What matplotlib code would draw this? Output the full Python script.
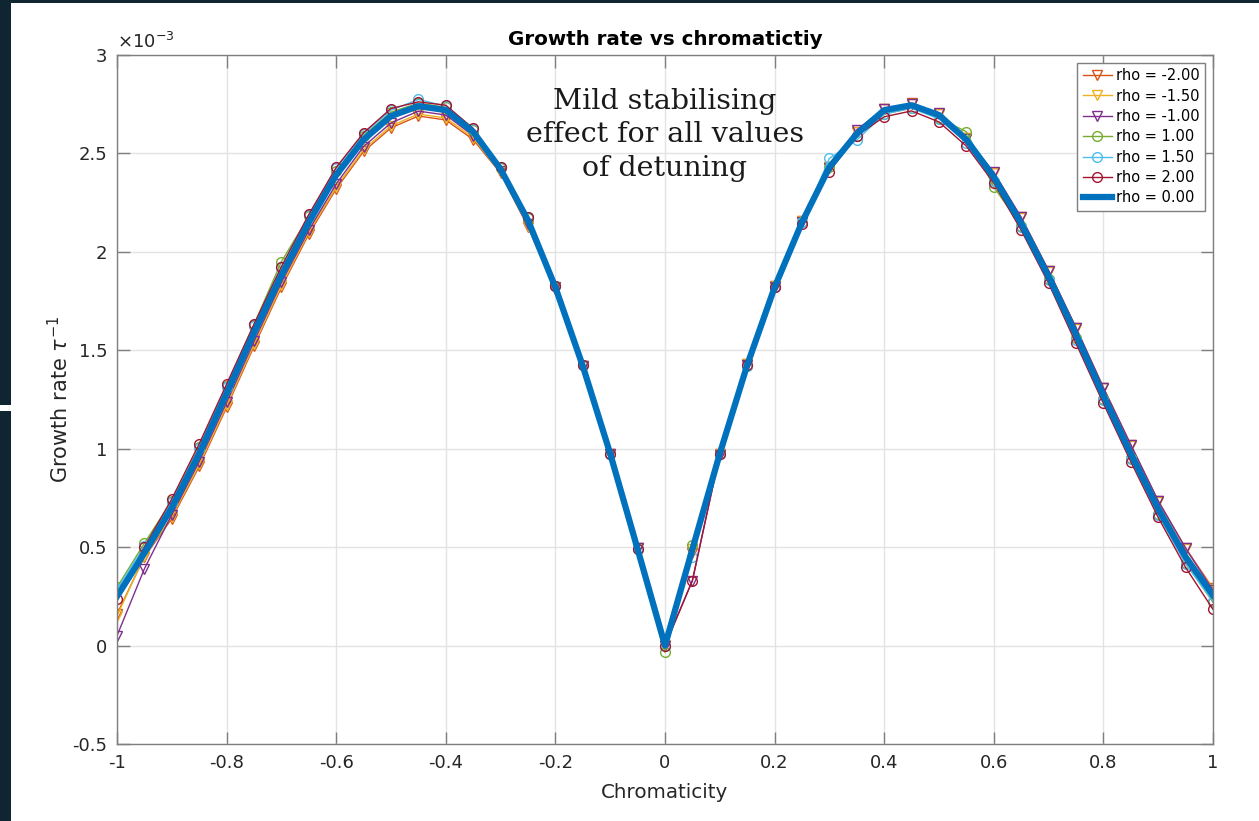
import matplotlib
matplotlib.use('Agg')
import matplotlib.pyplot as plt
from matplotlib.patches import Rectangle
from matplotlib.ticker import FuncFormatter

# Chromaticity (eje x)
chroma = [-1.00, -0.95, -0.90, -0.85, -0.80, -0.75, -0.70, -0.65, -0.60, -0.55,
          -0.50, -0.45, -0.40, -0.35, -0.30, -0.25, -0.20, -0.15, -0.10, -0.05,
          0.00, 0.05, 0.10, 0.15, 0.20, 0.25, 0.30, 0.35, 0.40, 0.45,
          0.50, 0.55, 0.60, 0.65, 0.70, 0.75, 0.80, 0.85, 0.90, 0.95, 1.00]

# Growth rate en unidades de 1e-3
rate_m200 = [0.16, 0.45, 0.645, 0.91, 1.21, 1.52, 1.82, 2.09, 2.32, 2.51,
             2.63, 2.69, 2.67, 2.57, 2.40, 2.125, 1.81, 1.42, 0.975, 0.495,
             0.005, 0.47, 0.975, 1.43, 1.825, 2.155, 2.43, 2.61, 2.725, 2.755,
             2.70, 2.58, 2.40, 2.175, 1.905, 1.615, 1.31, 1.02, 0.735, 0.495, 0.29]
rate_m150 = [0.15, 0.455, 0.655, 0.92, 1.22, 1.53, 1.83, 2.10, 2.33, 2.52,
             2.64, 2.70, 2.68, 2.58, 2.405, 2.13, 1.815, 1.42, 0.975, 0.495,
             0.005, 0.49, 0.975, 1.43, 1.825, 2.155, 2.43, 2.61, 2.725, 2.75,
             2.70, 2.58, 2.40, 2.17, 1.90, 1.61, 1.31, 1.015, 0.73, 0.49, 0.285]
rate_m100 = [0.05, 0.39, 0.665, 0.935, 1.235, 1.545, 1.845, 2.11, 2.345, 2.535,
             2.655, 2.715, 2.695, 2.59, 2.41, 2.14, 1.82, 1.42, 0.975, 0.495,
             0.0, 0.33, 0.97, 1.425, 1.82, 2.15, 2.425, 2.62, 2.728, 2.75,
             2.706, 2.575, 2.405, 2.175, 1.905, 1.615, 1.31, 1.02, 0.735, 0.495, 0.28]
rate_p100 = [0.296, 0.52, 0.735, 1.01, 1.32, 1.63, 1.95, 2.18, 2.41, 2.59,
             2.71, 2.755, 2.735, 2.62, 2.425, 2.17, 1.825, 1.425, 0.975, 0.49,
             -0.035, 0.51, 0.975, 1.42, 1.82, 2.15, 2.43, 2.59, 2.70, 2.73,
             2.68, 2.61, 2.33, 2.13, 1.86, 1.56, 1.25, 0.955, 0.67, 0.42, 0.22]
rate_p150 = [0.286, 0.505, 0.73, 1.005, 1.315, 1.625, 1.925, 2.185, 2.425, 2.60,
             2.72, 2.774, 2.74, 2.625, 2.43, 2.175, 1.825, 1.425, 0.975, 0.49,
             0.0, 0.45, 0.975, 1.42, 1.82, 2.15, 2.475, 2.568, 2.70, 2.73,
             2.675, 2.555, 2.36, 2.125, 1.855, 1.55, 1.245, 0.95, 0.665, 0.415, 0.225]
rate_p200 = [0.238, 0.50, 0.745, 1.025, 1.328, 1.633, 1.924, 2.19, 2.429, 2.605,
             2.728, 2.762, 2.745, 2.627, 2.432, 2.178, 1.826, 1.425, 0.975, 0.49,
             0.0, 0.33, 0.975, 1.425, 1.82, 2.14, 2.408, 2.59, 2.686, 2.716,
             2.66, 2.537, 2.35, 2.11, 1.84, 1.535, 1.23, 0.934, 0.651, 0.397, 0.184]
rate_0 = [0.25, 0.47, 0.70, 0.975, 1.28, 1.59, 1.88, 2.15, 2.39, 2.57,
          2.69, 2.74, 2.72, 2.61, 2.42, 2.16, 1.82, 1.42, 0.975, 0.49,
          0.0, 0.49, 0.975, 1.425, 1.82, 2.15, 2.43, 2.60, 2.72, 2.745,
          2.695, 2.57, 2.38, 2.145, 1.875, 1.58, 1.27, 0.975, 0.695, 0.45, 0.255]

series = [
    ('rho = -2.00', rate_m200, '#D95319', 'v'),
    ('rho = -1.50', rate_m150, '#EDB120', 'v'),
    ('rho = -1.00', rate_m100, '#7E2F8E', 'v'),
    ('rho = 1.00', rate_p100, '#77AC30', 'o'),
    ('rho = 1.50', rate_p150, '#4DBEEE', 'o'),
    ('rho = 2.00', rate_p200, '#A2142F', 'o'),
]

fig = plt.figure(figsize=(12.59, 8.21), dpi=100)
fig.patch.set_facecolor('#0F2532')
# fondo blanco de la captura
fig.add_artist(Rectangle((11 / 1259, 0), 1, 1 - 3 / 821, transform=fig.transFigure,
                         facecolor='white', edgecolor='none', zorder=0))
fig.add_artist(Rectangle((0, 1 - 411 / 821), 11 / 1259, 6 / 821, transform=fig.transFigure,
                         facecolor='white', edgecolor='none', zorder=0))

ax = fig.add_axes([117 / 1259, 1 - 744 / 821, (1213 - 117) / 1259, (744 - 55) / 821])

for label, vals, col, mk in series:
    ax.plot(chroma, vals, c=col, lw=1.0, marker=mk, ms=7, mfc='none',
            mec=col, mew=1.0, label=label)
ax.plot(chroma, rate_0, c='#0072BD', lw=4.5, label='rho = 0.00',
        solid_joinstyle='round')

ax.set_xlim(-1, 1)
ax.set_ylim(-0.5, 3)
ax.set_xticks([-1, -0.8, -0.6, -0.4, -0.2, 0, 0.2, 0.4, 0.6, 0.8, 1])
ax.set_yticks([-0.5, 0, 0.5, 1, 1.5, 2, 2.5, 3])
fmt = FuncFormatter(lambda v, p: '%g' % v)
ax.xaxis.set_major_formatter(fmt)
ax.yaxis.set_major_formatter(fmt)
ax.tick_params(direction='in', length=9, width=1, top=True, right=True,
               labelsize=13, colors='#7f7f7f', labelcolor='#262626', pad=7)
for s in ax.spines.values():
    s.set_color('#7f7f7f')
    s.set_linewidth(1)
ax.grid(c='#e3e3e3', lw=1)
ax.set_axisbelow(True)

ax.set_title('Growth rate vs chromatictiy', fontsize=14.3, fontweight='bold',
             color='black', pad=7)
ax.set_xlabel('Chromaticity', fontsize=14.3, color='#262626', labelpad=8)
ax.set_ylabel('Growth rate $\\tau^{-1}$', fontsize=15, color='#262626', labelpad=0)
ax.text(0.0, 1.005, '$\\times$10$^{-3}$', transform=ax.transAxes, fontsize=13,
        color='#262626', ha='left', va='bottom')

ax.text(0.0, 2.595, 'Mild stabilising\neffect for all values\nof detuning',
        fontsize=20.5, family='DejaVu Serif', ha='center', va='center',
        linespacing=1.3, color='#1a1a1a')

leg = ax.legend(loc='upper right', fontsize=10.5, handlelength=2.0,
                borderaxespad=0.55, labelspacing=0.37, handletextpad=0.3,
                fancybox=False, framealpha=1, borderpad=0.35)
leg.get_frame().set_edgecolor('#7f7f7f')
leg.get_frame().set_linewidth(1)

fig.savefig('out.png', dpi=100, facecolor=fig.get_facecolor())
